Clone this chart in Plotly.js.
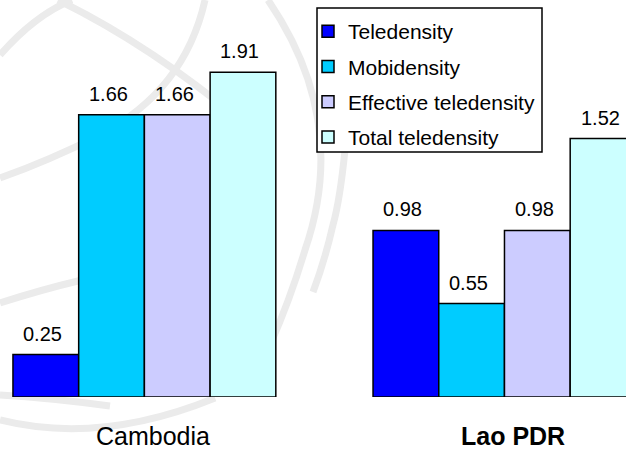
<!DOCTYPE html>
<html>
<head>
<meta charset="utf-8">
<script src="https://cdn.plot.ly/plotly-3.0.1.min.js"></script>
<style>html,body{margin:0;padding:0;background:#fff;}#chart{width:626px;height:450px;}</style>
</head>
<body>
<div id="chart"></div>
<script>
// ---- data ----
const categories = ["Cambodia", "Lao PDR"];
const categoryLabels = ["Cambodia", "<b>Lao PDR</b>"];
const seriesNames = ["Teledensity", "Mobidensity", "Effective teledensity", "Total teledensity"];
const teledensity = [0.25, 0.98];
const mobidensity = [1.66, 0.55];
const effectiveTeledensity = [1.66, 0.98];
const totalTeledensity = [1.91, 1.52];

// ---- styling ----
const seriesValues = [teledensity, mobidensity, effectiveTeledensity, totalTeledensity];
const colors = ["#0000FF", "#00CCFF", "#CCCCFF", "#CCFFFF"];
const FONT = "Arial, 'Liberation Sans', sans-serif";
const W = 626, H = 450, MB = 53;
const PH = H - MB;
const bargap = 0.27;

const traces = seriesNames.map((name, i) => ({
  type: "bar",
  name: name,
  x: categories,
  y: seriesValues[i],
  legendgroup: "g" + i,
  marker: { color: colors[i], line: { color: "#000", width: 1.5 } },
  hoverinfo: "skip"
}));

const annotations = [];
seriesValues.forEach((vals, i) => {
  vals.forEach((v, j) => {
    annotations.push({
      x: j + (i - 1.5) * (1 - bargap) / 4,
      y: v,
      xref: "x", yref: "y",
      text: v.toFixed(2),
      showarrow: false,
      yanchor: "middle",
      yshift: 21,
      xshift: -3,
      font: { family: FONT, size: 20, color: "#000" }
    });
  });
});
categoryLabels.forEach((lab, j) => {
  annotations.push({
    x: j, y: 0, xref: "x", yref: "paper",
    text: lab, showarrow: false,
    yanchor: "middle", yshift: -39, xshift: 9,
    font: { family: FONT, size: 25, color: "#000" }
  });
});

// watermark paths in pixel coordinates -> paper
function toPaper(path) {
  return path.replace(/(-?\d+(?:\.\d+)?),(-?\d+(?:\.\d+)?)/g, (m, a, b) =>
    (parseFloat(a) / W).toFixed(4) + "," + (1 - parseFloat(b) / PH).toFixed(4));
}
const watermark = [
  "M0,55 Q35,15 72,0",
  "M58,0 Q150,45 240,120",
  "M205,0 Q185,90 100,135 Q50,160 0,178",
  "M268,0 Q350,120 305,250 Q290,300 270,345",
  "M0,303 Q40,290 82,280",
  "M0,395 Q50,398 110,406",
  "M0,420 Q100,445 215,398",
  "M345,150 Q340,200 333,225 Q325,260 313,292"
];
const shapes = watermark.map(p => ({
  type: "path", xref: "paper", yref: "paper", layer: "below",
  path: toPaper(p),
  line: { color: "#ebebeb", width: 7 }
}));
shapes.push({
  type: "rect", xref: "paper", yref: "paper", layer: "above",
  x0: 317 / W, x1: 542 / W, y0: 1 - 8 / PH, y1: 1 - 152 / PH,
  fillcolor: "#fff", line: { color: "#000", width: 1.5 }
});

const layout = {
  width: W, height: H,
  margin: { l: 0, r: 0, t: 0, b: MB, pad: 0 },
  paper_bgcolor: "rgba(0,0,0,0)",
  plot_bgcolor: "rgba(0,0,0,0)",
  barmode: "group",
  bargap: bargap,
  bargroupgap: 0,
  showlegend: true,
  legend: {
    x: 308 / W, xanchor: "left",
    y: 1 - 11 / PH, yanchor: "top",
    traceorder: "grouped",
    tracegroupgap: 5,
    bgcolor: "rgba(0,0,0,0)",
    borderwidth: 0,
    font: { family: FONT, size: 21, color: "#000" }
  },
  xaxis: {
    type: "category",
    range: [-0.401, 1.3375],
    showticklabels: false, showgrid: false, zeroline: false, showline: false, ticks: ""
  },
  yaxis: {
    range: [0, PH / 170],
    visible: false, showgrid: false, zeroline: false
  },
  annotations: annotations,
  shapes: shapes,
  font: { family: FONT, color: "#000" }
};

Plotly.newPlot("chart", traces, layout, { displayModeBar: false, staticPlot: true });
</script>
</body>
</html>
